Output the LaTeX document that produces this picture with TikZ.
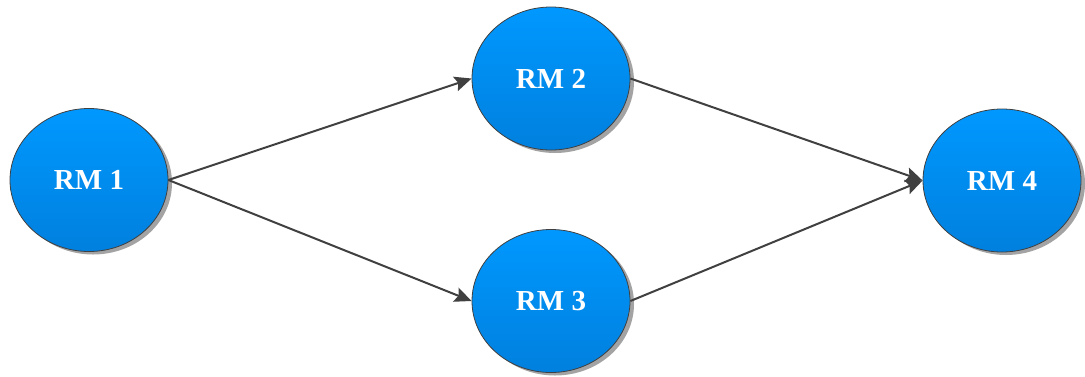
\documentclass[tikz,border=0pt]{standalone}
\usepackage{fontspec}
\setmainfont{Liberation Serif}
\usepackage{xcolor}
\usetikzlibrary{shapes.geometric,shadows,arrows.meta}
\definecolor{rmtop}{RGB}{0,152,255}
\definecolor{rmbot}{RGB}{0,128,222}
\definecolor{rmline}{RGB}{64,64,64}
\tikzset{
  rm/.style={ellipse, draw=rmline, thin, minimum width=79pt, minimum height=71.5pt, inner sep=0pt,
    top color=rmtop, bottom color=rmbot, text=white,
    font=\fontsize{14.5}{16}\selectfont\bfseries,
    drop shadow={shadow xshift=2pt, shadow yshift=-1.5pt, fill=black!45, opacity=0.8}},
  link/.style={draw=rmline, line width=1pt, -{Stealth[length=8.5pt,width=7.5pt,inset=1.5pt]}}
}
\begin{document}
\begin{tikzpicture}[x=0.5pt,y=-0.5pt]
\useasboundingbox (0,0) rectangle (1085,376);
\node[rm] (rm1) at (89,180) {RM 1};
\node[rm] (rm2) at (551,78.5) {RM 2};
\node[rm] (rm3) at (551,301) {RM 3};
\node[rm] (rm4) at (1002,180.5) {RM 4};
\draw[link] (rm1.east) -- (rm2.west);
\draw[link] (rm1.east) -- (rm3.west);
\draw[link] (rm2.east) -- (rm4.west);
\draw[link] (rm3.east) -- (rm4.west);
\end{tikzpicture}
\end{document}
